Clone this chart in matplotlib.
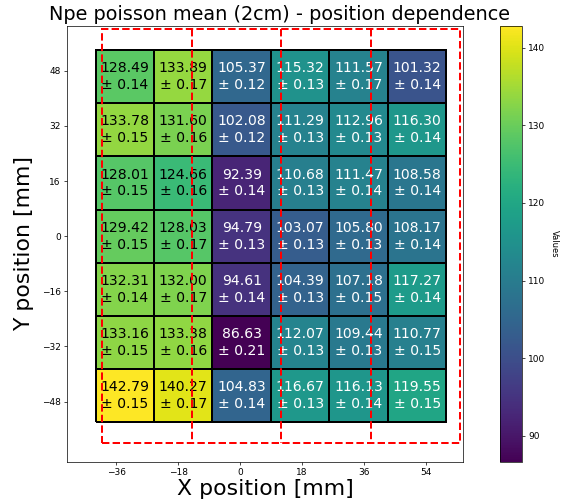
import numpy as np
import matplotlib
matplotlib.use('Agg')
import matplotlib.pyplot as plt
from matplotlib.patches import Rectangle

# Npe poisson mean per cell, rows listed from top (y>0) to bottom
npe_mean = [
    [128.49, 133.89, 105.37, 115.32, 111.57, 101.32],
    [133.78, 131.60, 102.08, 111.29, 112.96, 116.30],
    [128.01, 124.66, 92.39, 110.68, 111.47, 108.58],
    [129.42, 128.03, 94.79, 103.07, 105.80, 108.17],
    [132.31, 132.00, 94.61, 104.39, 107.18, 117.27],
    [133.16, 133.38, 86.63, 112.07, 109.44, 110.77],
    [142.79, 140.27, 104.83, 116.67, 116.13, 119.55],
]
npe_err = [
    [0.14, 0.17, 0.12, 0.13, 0.17, 0.14],
    [0.15, 0.16, 0.12, 0.13, 0.13, 0.14],
    [0.15, 0.16, 0.14, 0.13, 0.14, 0.14],
    [0.15, 0.17, 0.13, 0.13, 0.13, 0.14],
    [0.14, 0.17, 0.14, 0.13, 0.15, 0.14],
    [0.15, 0.16, 0.21, 0.13, 0.13, 0.15],
    [0.15, 0.17, 0.14, 0.13, 0.14, 0.15],
]
x_ticks = [-36, -18, 0, 18, 36, 54]
y_ticks = [-48, -32, -16, 0, 16, 32, 48]

# scan grid and the sector boxes (mm)
x_edges = np.linspace(-42, 60, 7)
y_edges = np.linspace(-54, 54, 8)
sector_x = [-40, -14, 12, 38, 64]
sector_y = (-60, 60)

plt.rcParams['xtick.major.size'] = 2.9
plt.rcParams['ytick.major.size'] = 2.9
plt.rcParams['xtick.major.width'] = 0.7
plt.rcParams['ytick.major.width'] = 0.7
plt.rcParams['axes.linewidth'] = 0.7

W, H = 563, 504
fig = plt.figure(figsize=(W / 72, H / 72), dpi=72)
ax = fig.add_axes([67.3 / W, 1 - 461.5 / H, 396 / W, 435.5 / H])
cax = fig.add_axes([500 / W, 1 - 462 / H, 21.5 / W, 436 / H])

vals = np.flipud(np.array(npe_mean))
errs = np.flipud(np.array(npe_err))

mesh = ax.pcolormesh(x_edges, y_edges, vals, cmap='viridis',
                     edgecolors='black', linewidth=1.8)

xc = 0.5 * (x_edges[:-1] + x_edges[1:])
yc = 0.5 * (y_edges[:-1] + y_edges[1:])
for i in range(vals.shape[0]):
    for j in range(vals.shape[1]):
        v = vals[i, j]
        col = 'black' if v > 120 else 'white'
        ax.text(xc[j], yc[i], f"{v:.2f}\n\u00b1 {errs[i, j]:.2f}",
                ha='center', va='center', fontsize=14, color=col,
                linespacing=1.25, zorder=3)

# dashed sector boxes: outer frame + inner dividers (each drawn once)
ax.add_patch(Rectangle((sector_x[0], sector_y[0]), sector_x[-1] - sector_x[0],
                       sector_y[1] - sector_y[0], fill=False, edgecolor='red',
                       linestyle='--', linewidth=2, zorder=4))
for sx in sector_x[1:-1]:
    ax.plot([sx, sx], [sector_y[1], sector_y[0]], color='red',
            linestyle='--', linewidth=2, zorder=4)

ax.set_xlim(-50.2, 64.9)
ax.set_ylim(-65.4, 61.0)
ax.set_xticks(x_ticks)
ax.set_yticks(y_ticks)
ax.tick_params(labelsize=9)
ax.set_xlabel('X position [mm]', fontsize=22, labelpad=2)
ax.set_ylabel('Y position [mm]', fontsize=22, labelpad=8)
fig.text(279.5 / W, 1 - 5 / H, 'Npe poisson mean (2cm) - position dependence',
         fontsize=19.3, ha='center', va='top')

cbar = fig.colorbar(mesh, cax=cax)
cbar.ax.tick_params(labelsize=9)
cbar.outline.set_linewidth(0.7)
cbar.set_label('Values', rotation=270, fontsize=8.4, labelpad=14)

fig.savefig('out.png', dpi=72)
